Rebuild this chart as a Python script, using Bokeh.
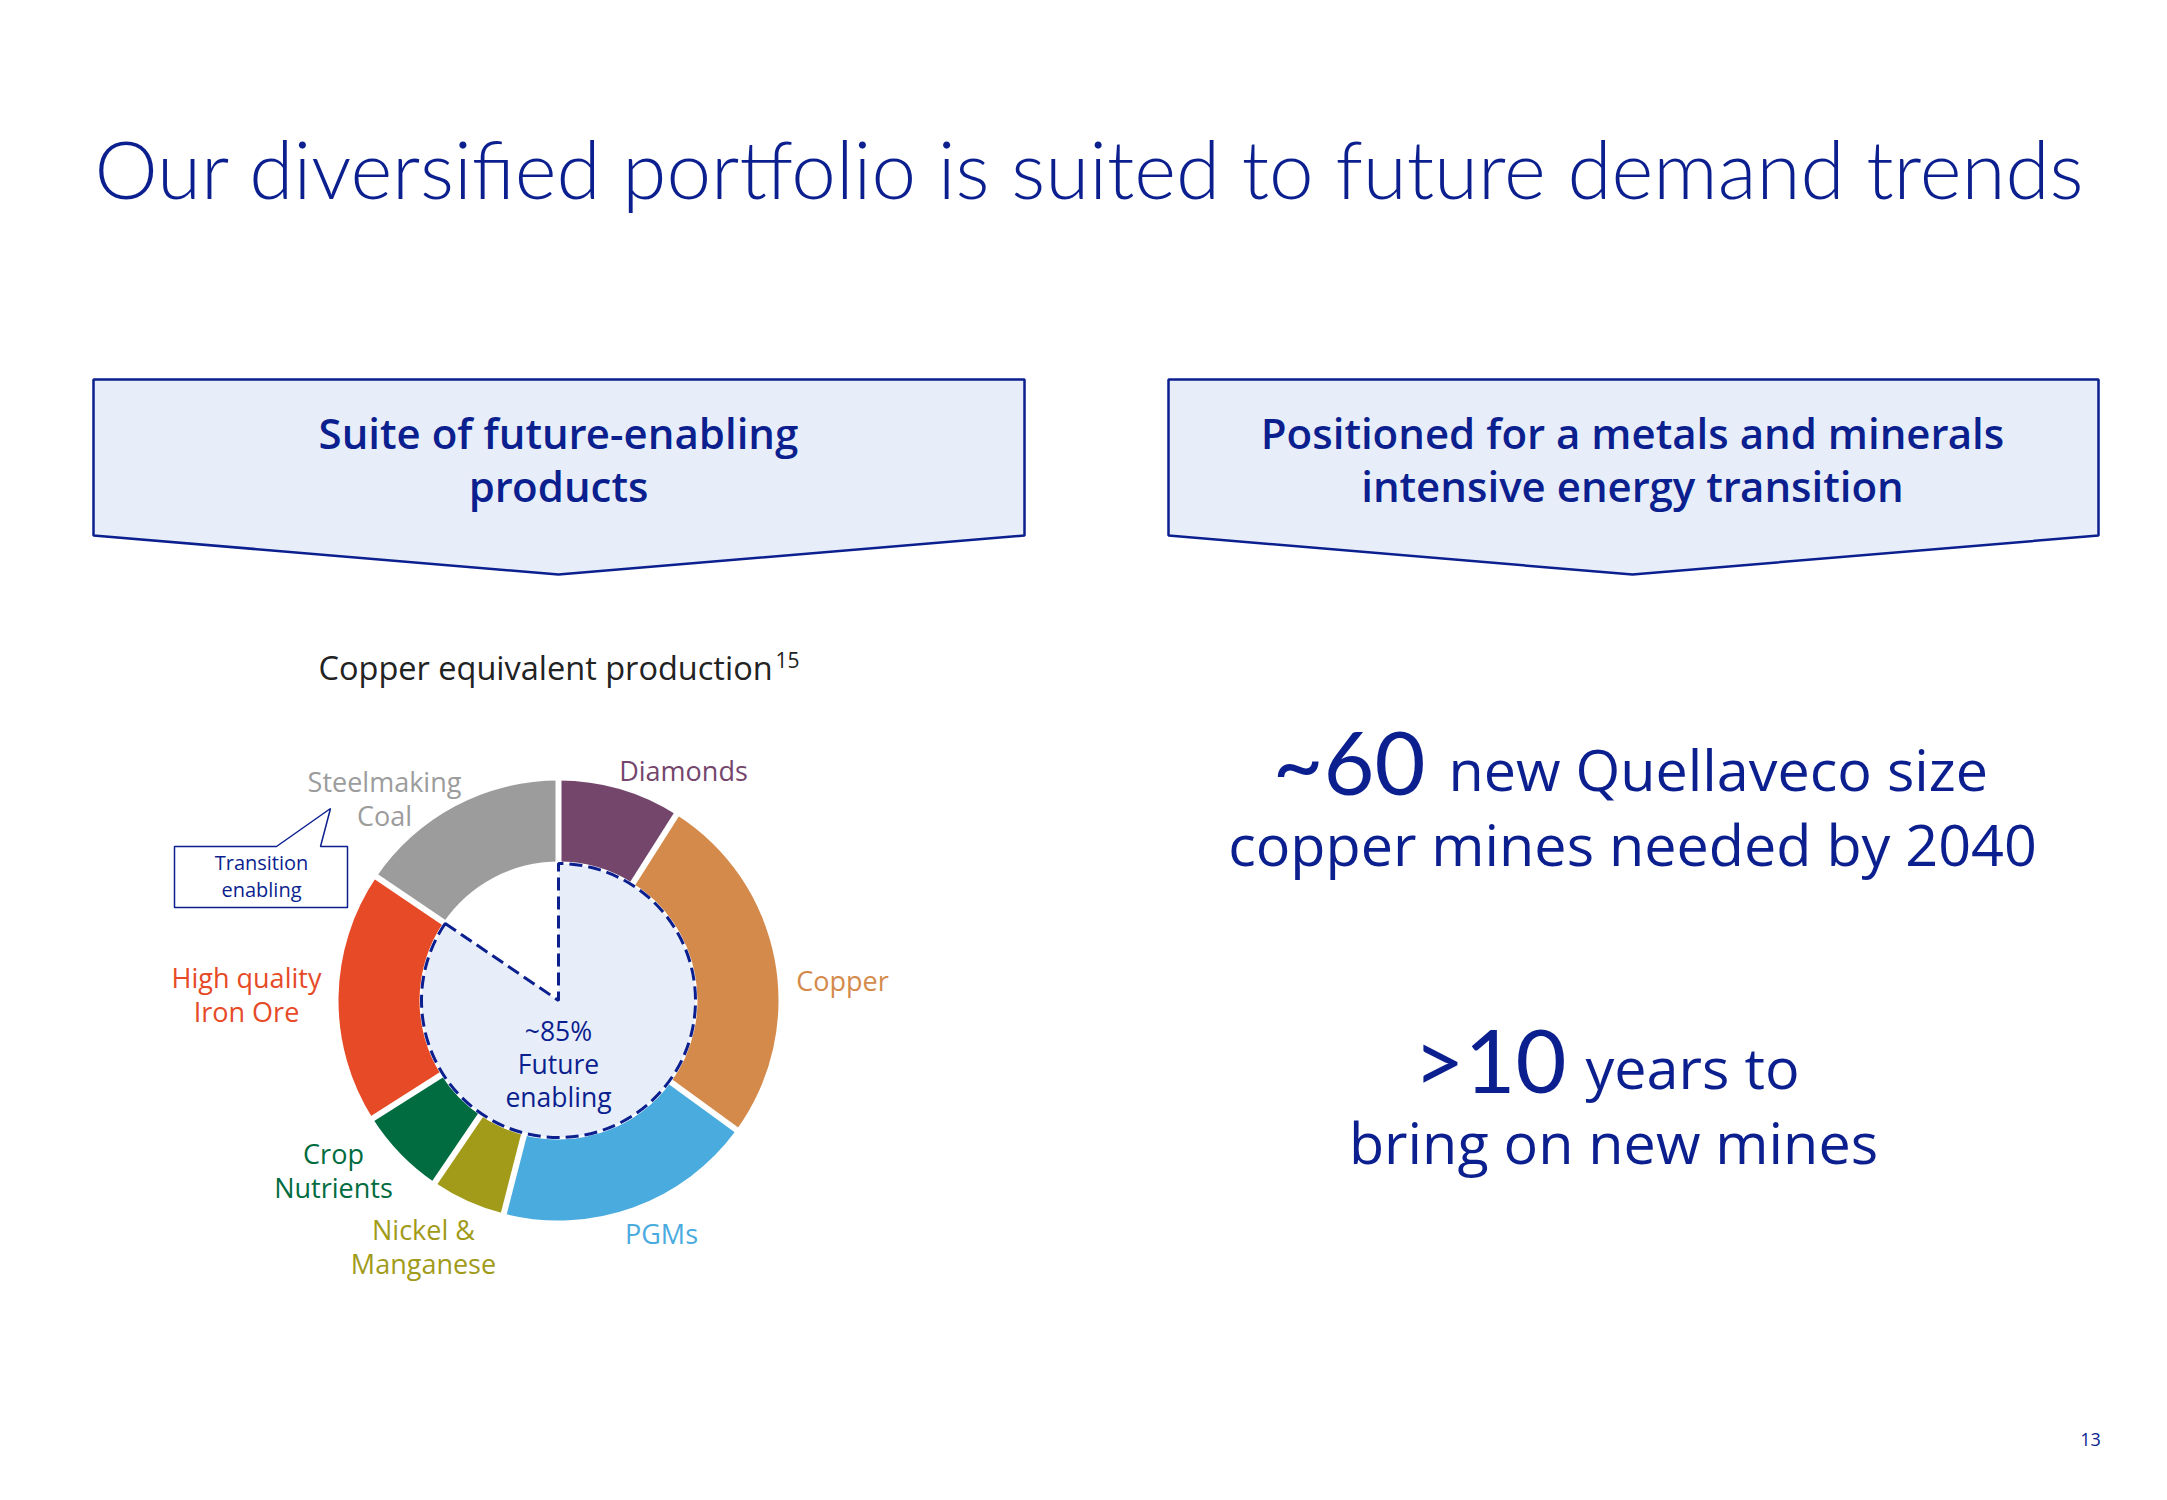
import numpy as np
from bokeh.plotting import figure
from bokeh.models import Range1d, ColumnDataSource
from bokeh.embed import file_html
from bokeh.resources import INLINE
from bokeh.core.properties import value

# ---------------- data ----------------
categories = ["Diamonds", "Copper", "PGMs", "Nickel & Manganese",
              "Crop Nutrients", "High quality Iron Ore", "Steelmaking Coal"]
shares = [9.0, 26.0, 19.0, 5.5, 6.5, 18.5, 15.5]          # % of copper equivalent production
future_enabling = [True, True, True, True, True, True, False]
colors = ["#74466c", "#d48a4b", "#4aabdf", "#a19b19", "#006c40", "#e64a27", "#9c9c9c"]
label_lines = [["Diamonds"], ["Copper"], ["PGMs"], ["Nickel &", "Manganese"],
               ["Crop", "Nutrients"], ["High quality", "Iron Ore"], ["Steelmaking", "Coal"]]

title = "Our diversified portfolio is suited to future demand trends"
left_header = ["Suite of future-enabling", "products"]
right_header = ["Positioned for a metals and minerals", "intensive energy transition"]
subtitle = "Copper equivalent production"
footnote_ref = "15"
centre_lines = ["~85%", "Future", "enabling"]
callout_lines = ["Transition", "enabling"]
stat1_big, stat1_rest, stat1_line2 = "~60", "new Quellaveco size", "copper mines needed by 2040"
stat2_big, stat2_rest, stat2_line2 = ">10", "years to", "bring on new mines"
page_number = "13"

# ---------------- layout ----------------
W, H = 2167, 1500
NAVY = "#0b1f8f"
BOXFILL = "#e8eef9"
FONT = "Open Sans"


def Y(y):
    return H - y


p = figure(width=W, height=H, x_range=Range1d(0, W), y_range=Range1d(0, H),
           output_backend="svg", toolbar_location=None, min_border=0)
p.axis.visible = False
p.grid.visible = False
p.outline_line_color = None
p.background_fill_color = "white"
p.border_fill_color = "white"


def txt(x, y, s, size, color=NAVY, align="center", baseline="middle", style="normal", font=FONT):
    p.text(x=[x], y=[Y(y)], text=[s], text_font=value(font), text_font_size=f"{size}px",
           text_color=color, text_align=align, text_baseline=baseline, text_font_style=style)


# title
txt(94, 167, title, 80, align="left", font="Lato Light")

# header boxes
for (x0, x1, xm), lines in [((93, 1024, 558), left_header), ((1168, 2098, 1632), right_header)]:
    p.patch(x=[x0, x1, x1, xm, x0], y=[Y(379), Y(379), Y(535), Y(574), Y(535)],
            fill_color=BOXFILL, line_color=NAVY, line_width=2.5)
    for i, s in enumerate(lines):
        txt(xm, 432 + 53 * i, s, 42, font="Open Sans SemiBold")

# subtitle
txt(318, 667, subtitle, 32.5, color="#222222", align="left")
txt(775, 659, footnote_ref, 21, color="#222222", align="left")

# donut
cx, cy = 558, 1000
r_in, r_out = 139, 220
vals = np.array(shares)
cum = np.concatenate([[0], np.cumsum(vals)]) / vals.sum() * 2 * np.pi
cw_start, cw_end = cum[:-1], cum[1:]
src = ColumnDataSource(dict(start=np.pi / 2 - cw_end, end=np.pi / 2 - cw_start,
                            color=colors, name=categories))
p.annular_wedge(x=cx, y=Y(cy), inner_radius=r_in, outer_radius=r_out,
                start_angle="start", end_angle="end", fill_color="color",
                line_color=None, source=src)
# white separators
b = cum[:-1]
p.segment(x0=cx + (r_in - 3) * np.sin(b), y0=Y(cy) + (r_in - 3) * np.cos(b),
          x1=cx + (r_out + 3) * np.sin(b), y1=Y(cy) + (r_out + 3) * np.cos(b),
          line_color="white", line_width=6)

# future enabling inner wedge
fe_total = sum(s for s, f in zip(shares, future_enabling) if f) / vals.sum() * 2 * np.pi
p.wedge(x=cx, y=Y(cy), radius=r_in - 2, start_angle=np.pi / 2 - fe_total, end_angle=np.pi / 2,
        fill_color=BOXFILL, line_color=NAVY, line_width=3, line_dash="13 6")
for i, s in enumerate(centre_lines):
    txt(cx, 1030 + 33 * i, s, 26.5)

# segment labels
label_pos = [(683, 770), (842, 980), (661, 1233), (423, 1246), (333, 1170), (246, 994), (384, 798)]
for (lx, ly), lines, col in zip(label_pos, label_lines, colors):
    n = len(lines)
    for i, s in enumerate(lines):
        txt(lx, ly + (i - (n - 1) / 2) * 34, s, 27, color=col)

# callout
cxs = [174, 276, 330, 320, 347, 347, 174]
cys = [846, 846, 808, 846, 846, 907, 907]
p.patch(x=cxs, y=[Y(v) for v in cys], fill_color="white", line_color=NAVY, line_width=1.5)
for i, s in enumerate(callout_lines):
    txt(261, 862 + 27 * i, s, 20)

# right side statistics
txt(1425, 760, stat1_big, 88, align="right", font="Lato")
txt(1448, 768, stat1_rest, 57.5, align="left")
txt(1632, 843, stat1_line2, 57.5)
txt(1566, 1058, stat2_big, 88, align="right", font="Lato")
txt(1585, 1066, stat2_rest, 57.5, align="left")
txt(1613, 1141, stat2_line2, 57.5)

# page number
txt(2090, 1439, page_number, 18)

open("out.html", "w").write(file_html(p, INLINE))
